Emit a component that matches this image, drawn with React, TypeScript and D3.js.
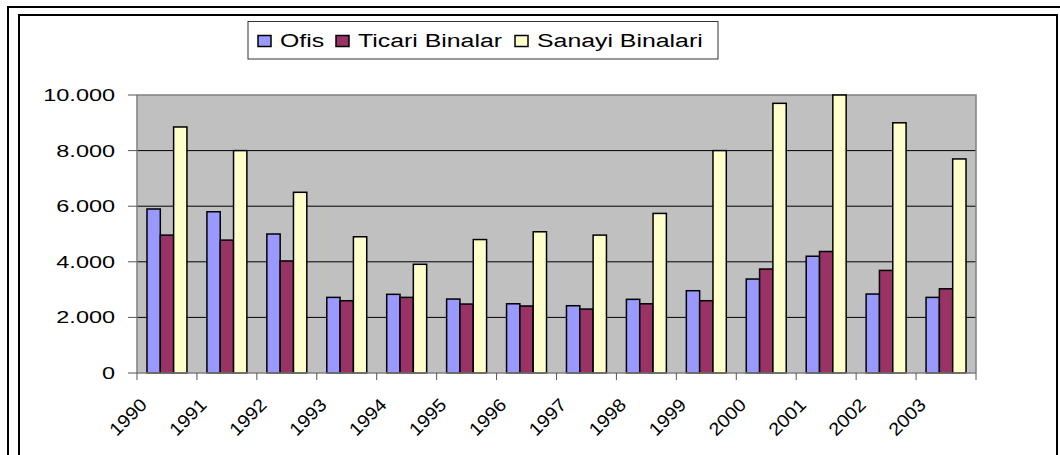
import React, { useEffect, useRef } from 'react';
import * as d3 from 'd3';

const years = ['1990', '1991', '1992', '1993', '1994', '1995', '1996', '1997', '1998', '1999', '2000', '2001', '2002', '2003'];
const seriesNames = ['Ofis', 'Ticari Binalar', 'Sanayi Binalari'];
const ofis = [5900, 5800, 5000, 2720, 2830, 2660, 2490, 2420, 2650, 2960, 3380, 4200, 2840, 2720];
const ticari = [4960, 4780, 4030, 2600, 2720, 2480, 2410, 2300, 2490, 2600, 3740, 4370, 3690, 3030];
const sanayi = [8850, 8000, 6500, 4900, 3910, 4800, 5080, 4960, 5740, 8000, 9700, 10000, 9000, 7700];
const yTicks = [0, 2000, 4000, 6000, 8000, 10000];
const colors = ['#9999ff', '#993366', '#ffffcc'];

const App = () => {
  const svgRef = useRef<SVGSVGElement>(null);

  useEffect(() => {
    const svg = d3.select(svgRef.current);
    svg.selectAll('*').remove();

    const width = 1060;
    const height = 455;
    const plot = { left: 137, right: 976, top: 95, bottom: 373 };
    const font = '"Liberation Sans", Arial, sans-serif';
    const stretch = 1.38;

    // frames
    svg.append('path')
      .attr('d', `M8,${height} V7 H${width}`)
      .attr('fill', 'none').attr('stroke', '#000').attr('stroke-width', 2);
    svg.append('path')
      .attr('d', `M19,${height} V15 H1057 V${height}`)
      .attr('fill', 'none').attr('stroke', '#000').attr('stroke-width', 2);

    const x0 = d3.scaleBand<string>()
      .domain(years)
      .range([plot.left, plot.right])
      .paddingInner(0)
      .paddingOuter(0);

    const x1 = d3.scaleBand<number>()
      .domain([0, 1, 2])
      .range([0, x0.bandwidth()])
      .paddingInner(0)
      .paddingOuter(0.75);

    const y = d3.scaleLinear()
      .domain([0, 10000])
      .range([plot.bottom, plot.top]);

    // plot background
    svg.append('rect')
      .attr('x', plot.left).attr('y', plot.top)
      .attr('width', plot.right - plot.left).attr('height', plot.bottom - plot.top)
      .attr('fill', '#c0c0c0');

    // gridlines
    svg.selectAll('.grid')
      .data(yTicks.filter(t => t > 0 && t < 10000))
      .enter().append('line')
      .attr('x1', plot.left).attr('x2', plot.right)
      .attr('y1', d => y(d)).attr('y2', d => y(d))
      .attr('stroke', '#000').attr('stroke-width', 1);

    // plot border top/right
    svg.append('path')
      .attr('d', `M${plot.left},${plot.top} H${plot.right} V${plot.bottom}`)
      .attr('fill', 'none').attr('stroke', '#808080').attr('stroke-width', 1.5);

    // bars
    const series = [ofis, ticari, sanayi];
    series.forEach((vals, si) => {
      svg.append('g').selectAll('rect')
        .data(vals)
        .enter().append('rect')
        .attr('x', (d, i) => (x0(years[i]) as number) + (x1(si) as number))
        .attr('y', d => y(d))
        .attr('width', x1.bandwidth())
        .attr('height', d => y(0) - y(d))
        .attr('fill', colors[si])
        .attr('stroke', '#000')
        .attr('stroke-width', 1.5);
    });

    // axes lines
    svg.append('line')
      .attr('x1', plot.left).attr('x2', plot.left)
      .attr('y1', plot.top).attr('y2', plot.bottom)
      .attr('stroke', '#808080').attr('stroke-width', 1.5);
    svg.append('line')
      .attr('x1', plot.left).attr('x2', plot.right)
      .attr('y1', plot.bottom).attr('y2', plot.bottom)
      .attr('stroke', '#808080').attr('stroke-width', 1.5);

    // y ticks + labels
    svg.selectAll('.ytick')
      .data(yTicks)
      .enter().append('line')
      .attr('x1', plot.left - 9).attr('x2', plot.left)
      .attr('y1', d => y(d)).attr('y2', d => y(d))
      .attr('stroke', '#555').attr('stroke-width', 1);

    svg.selectAll('.ylabel')
      .data(yTicks)
      .enter().append('text')
      .attr('transform', d => `translate(115,${y(d) + 6}) scale(${stretch},1)`)
      .attr('text-anchor', 'end')
      .style('font-family', font)
      .style('font-size', '17px')
      .attr('fill', '#000')
      .text(d => d3.format(',')(d).replace(/,/g, '.'));

    // x ticks at category boundaries
    const bounds = years.map(yr => x0(yr) as number).concat([plot.right]);
    svg.selectAll('.xtick')
      .data(bounds)
      .enter().append('line')
      .attr('x1', d => d).attr('x2', d => d)
      .attr('y1', plot.bottom).attr('y2', plot.bottom + 7)
      .attr('stroke', '#555').attr('stroke-width', 1);

    // x labels rotated
    svg.selectAll('.xlabel')
      .data(years)
      .enter().append('text')
      .attr('transform', d => `translate(${(x0(d) as number) + x0.bandwidth() / 2 - 19},406) rotate(-45) scale(1.1,1)`)
      .attr('text-anchor', 'end')
      .style('font-family', font)
      .style('font-size', '18px')
      .attr('fill', '#000')
      .text(d => d);

    // legend
    const legend = svg.append('g');
    legend.append('rect')
      .attr('x', 248).attr('y', 21.5)
      .attr('width', 470).attr('height', 37.5)
      .attr('fill', '#fff').attr('stroke', '#333').attr('stroke-width', 1);

    const legendX = [258, 336, 515];
    seriesNames.forEach((name, i) => {
      legend.append('rect')
        .attr('x', legendX[i]).attr('y', 35.5)
        .attr('width', 13).attr('height', 11)
        .attr('fill', colors[i]).attr('stroke', '#000').attr('stroke-width', 1.5);
      legend.append('text')
        .attr('transform', `translate(${legendX[i] + 22},46.5) scale(${stretch},1)`)
        .style('font-family', font)
        .style('font-size', '18px')
        .attr('fill', '#000')
        .text(name);
    });
  }, []);

  return (
    <div style={{ position: 'absolute', left: 0, top: 0, width: 1060, height: 455, background: '#fff' }}>
      <svg ref={svgRef} width={1060} height={455} style={{ display: 'block' }} />
    </div>
  );
};

export default App;
